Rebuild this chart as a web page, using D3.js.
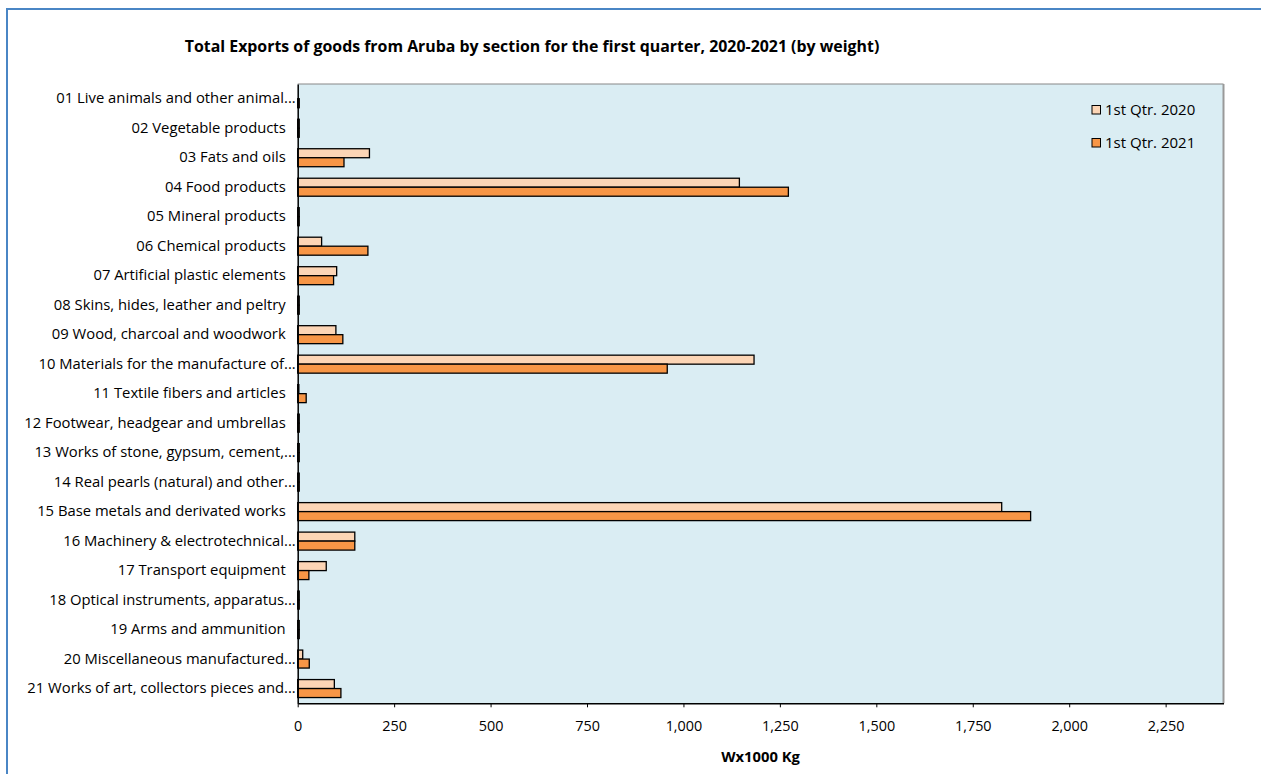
<!DOCTYPE html>
<html><head><meta charset="utf-8">
<script src="https://cdn.jsdelivr.net/npm/d3@7"></script>
<style>body{margin:0;background:#fff}svg{display:block}text{font-family:"Open Sans",Lato,sans-serif;fill:#000}</style>
</head><body>
<svg id="c" width="1261" height="774"></svg>
<script>
const categories = [
 "01 Live animals and other animal...",
 "02 Vegetable products",
 "03 Fats and oils",
 "04 Food products",
 "05 Mineral products",
 "06 Chemical products",
 "07 Artificial plastic elements",
 "08 Skins, hides, leather and peltry",
 "09 Wood, charcoal and woodwork",
 "10 Materials for the manufacture of...",
 "11 Textile fibers and articles",
 "12 Footwear, headgear and umbrellas",
 "13 Works of stone, gypsum, cement,...",
 "14 Real pearls (natural) and other...",
 "15 Base metals and derivated works",
 "16 Machinery & electrotechnical...",
 "17 Transport equipment",
 "18 Optical instruments, apparatus...",
 "19 Arms and ammunition",
 "20 Miscellaneous manufactured...",
 "21 Works of art, collectors pieces and..."
];
const seriesNames = ["1st Qtr. 2020", "1st Qtr. 2021"];
const q2020 = [0, 4, 186, 1145, 4, 62, 101, 4, 99, 1183, 3, 4, 4, 4, 1825, 148, 74, 4, 4, 13, 95];
const q2021 = [4, 4, 120, 1272, 4, 182, 93, 4, 117, 958, 22, 4, 4, 4, 1900, 148, 29, 4, 4, 30, 112];
const xTicks = [0, 250, 500, 750, 1000, 1250, 1500, 1750, 2000, 2250];
const colors = ["#FCD5B5", "#F79646"];

const svg = d3.select("#c");
// outer frame
svg.append("rect").attr("x",7).attr("y",9).attr("width",1300).attr("height",800)
  .attr("fill","none").attr("stroke","#4A86C5").attr("stroke-width",2);

const L=297.7, R=1223.5, T=84, B=703.3;
const x = d3.scaleLinear().domain([0,2400]).range([L,R]);
const y = d3.scaleBand().domain(categories).range([T,B]).paddingInner(0.39).paddingOuter(0.195);
const ys = d3.scaleBand().domain([0,1]).range([0,y.bandwidth()]);

// plot area
svg.append("rect").attr("x",L).attr("y",T).attr("width",R-L).attr("height",B-T).attr("fill","#DAEDF3");
svg.append("line").attr("x1",L).attr("x2",R).attr("y1",T).attr("y2",T).attr("stroke","#888").attr("stroke-width",1.2);
svg.append("line").attr("x1",R).attr("x2",R).attr("y1",T).attr("y2",B).attr("stroke","#999").attr("stroke-width",2);

const data = categories.map((c,i)=>({c, v:[q2020[i], q2021[i]]}));
const g = svg.append("g");
data.forEach(d=>{
  d.v.forEach((v,k)=>{
    if (v <= 0) return;
    g.append("rect").attr("x",x(0)).attr("y",y(d.c)+ys(k))
     .attr("width",x(v)-x(0)).attr("height",ys.bandwidth())
     .attr("fill",colors[k]).attr("stroke","#000").attr("stroke-width",1.3);
  });
});

// x axis
const xa = svg.append("g").attr("transform",`translate(0,${B})`)
  .call(d3.axisBottom(x).tickValues(xTicks).tickFormat(d3.format(",")).tickSize(4).tickSizeOuter(0));
xa.select(".domain").attr("stroke","#000").attr("stroke-width",1.5);
xa.selectAll(".tick line").attr("stroke","#000");
xa.selectAll(".tick text").attr("font-size",14.4).attr("font-family","Open Sans").attr("y",14).attr("dy","0.95em");

// y axis
const ya = svg.append("g").attr("transform",`translate(${L},0)`)
  .call(d3.axisLeft(y).tickSize(0).tickSizeOuter(0));
ya.select(".domain").attr("stroke","#000").attr("stroke-width",1.5);
ya.selectAll(".tick text").attr("font-size",14.8).attr("font-family","Open Sans")
  .attr("x", d=> d.endsWith("...") ? -2 : -12);

// title
svg.append("text").attr("x",532).attr("y",52).attr("text-anchor","middle")
  .attr("font-size",15.9).attr("font-weight","bold").text("Total Exports of goods from Aruba by section for the first quarter, 2020-2021 (by weight)");
svg.append("text").attr("x",(L+R)/2).attr("y",762).attr("text-anchor","middle")
  .attr("font-size",14.8).attr("font-weight","bold").text("Wx1000 Kg");

// legend
const lg = svg.append("g");
seriesNames.forEach((n,k)=>{
  const yy = 110 + k*33;
  lg.append("rect").attr("x",1092).attr("y",yy-4.5).attr("width",8.5).attr("height",8.5)
    .attr("fill",colors[k]).attr("stroke","#000").attr("stroke-width",1);
  lg.append("text").attr("x",1105).attr("y",yy).attr("dy","0.35em").attr("font-size",15).text(n);
});
</script>
</body></html>
